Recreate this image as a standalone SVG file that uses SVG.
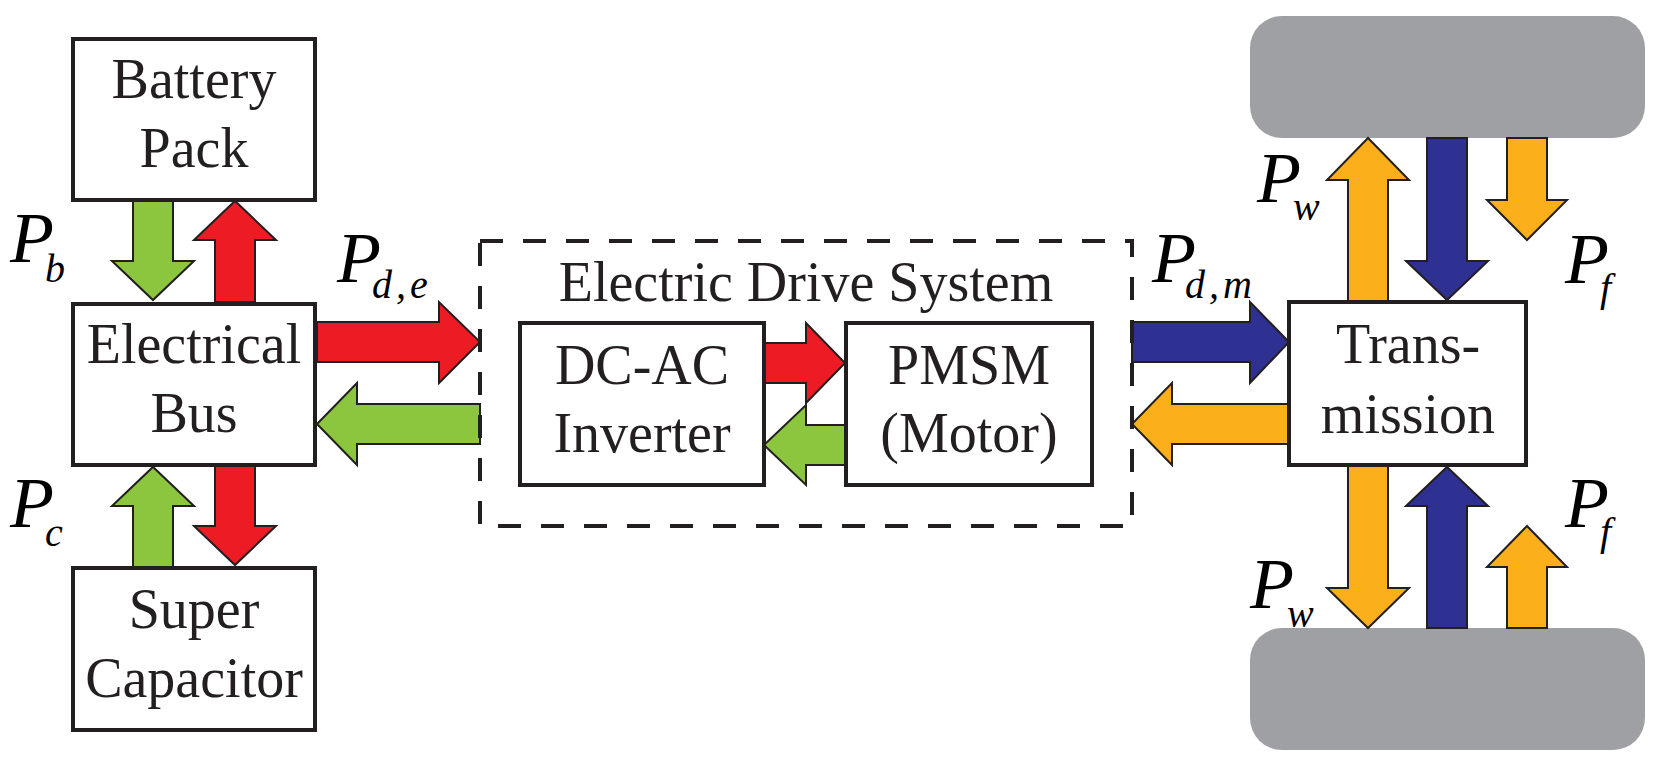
<svg xmlns="http://www.w3.org/2000/svg" width="1680" height="772" viewBox="0 0 1680 772">
<style>
.box{fill:#ffffff;stroke:#231f20;stroke-width:4}
.dash{fill:none;stroke:#231f20;stroke-width:4;stroke-dasharray:23 20}
.t{font-size:56px;fill:#231f20;text-anchor:middle}
.m{font-style:italic;fill:#000000}
.P{font-size:72px}
.s{font-size:40px}
.ar{stroke:#231f20;stroke-width:2;stroke-linejoin:miter}
.g{fill:#8cc63f}.r{fill:#ed1c24}.b{fill:#2e3192}.y{fill:#fbb01b}
.wheel{fill:#9fa0a3}
</style>
<rect width="1680" height="772" fill="#ffffff"/>
<g id="wheels">
<rect class="wheel" x="1250" y="16" width="395" height="122" rx="32"/>
<rect class="wheel" x="1250" y="628" width="395" height="122" rx="32"/>
</g>
<g id="connectors">
<polygon class="ar g" points="133,200 173,200 173,261 194,261 153,300 112,261 133,261"/>
<polygon class="ar r" points="215,302 255,302 255,240 276,240 235,201 194,240 215,240"/>
<polygon class="ar g" points="133,567 173,567 173,506 194,506 153,467 112,506 133,506"/>
<polygon class="ar r" points="215,465 255,465 255,526 276,526 235,565 194,526 215,526"/>
<polygon class="ar r" points="317,322 439,322 439,302 480,342 439,383 439,362 317,362"/>
<polygon class="ar g" points="480,404 357,404 357,383 317,424 357,465 357,444 480,444"/>
<polygon class="ar r" points="764,343 806,343 806,323 845,363 806,403 806,383 764,383"/>
<polygon class="ar g" points="845,425 806,425 806,405 764,445 806,485 806,465 845,465"/>
<polygon class="ar b" points="1132,322 1250,322 1250,302 1289,342 1250,383 1250,362 1132,362"/>
<polygon class="ar y" points="1289,404 1172,404 1172,383 1132,424 1172,465 1172,444 1289,444"/>
<polygon class="ar y" points="1348,302 1388,302 1388,180 1409,180 1368,138 1327,180 1348,180"/>
<polygon class="ar b" points="1427,138 1467,138 1467,261 1488,261 1447,300 1406,261 1427,261"/>
<polygon class="ar y" points="1507,138 1547,138 1547,200 1567,200 1527,240 1487,200 1507,200"/>
<polygon class="ar y" points="1348,465 1388,465 1388,588 1409,588 1368,628 1327,588 1348,588"/>
<polygon class="ar b" points="1427,628 1467,628 1467,506 1488,506 1447,467 1406,506 1427,506"/>
<polygon class="ar y" points="1507,628 1547,628 1547,567 1567,567 1527,526 1487,567 1507,567"/>
</g>
<g id="nodes" font-family="Liberation Serif, Times New Roman, serif">
<g id="battery">
<rect class="box" x="73" y="39" width="242" height="161"/>
<text class="t" x="194" y="98">Battery</text>
<text class="t" x="194" y="167">Pack</text>
</g>
<g id="bus">
<rect class="box" x="73" y="304" width="242" height="161"/>
<text class="t" x="194" y="363">Electrical</text>
<text class="t" x="194" y="432">Bus</text>
</g>
<g id="supercap">
<rect class="box" x="73" y="568" width="242" height="162"/>
<text class="t" x="194" y="628">Super</text>
<text class="t" x="194" y="697">Capacitor</text>
</g>
<g id="drive">
<rect class="dash" x="480" y="241" width="652" height="285"/>
<text class="t" x="806" y="301">Electric Drive System</text>
</g>
<g id="inverter">
<rect class="box" x="520" y="323" width="244" height="162"/>
<text class="t" x="642" y="384">DC-AC</text>
<text class="t" x="642" y="452">Inverter</text>
</g>
<g id="pmsm">
<rect class="box" x="846" y="323" width="246" height="162"/>
<text class="t" x="969" y="384">PMSM</text>
<text class="t" x="969" y="452">(Motor)</text>
</g>
<g id="transmission">
<rect class="box" x="1289" y="302" width="237" height="163"/>
<text class="t" x="1408" y="363">Trans-</text>
<text class="t" x="1408" y="433">mission</text>
</g>
<g id="labels">
<text class="m P" x="10" y="262">P</text><text class="m s" x="45" y="282">b</text>
<text class="m P" x="10" y="527">P</text><text class="m s" x="45" y="546">c</text>
<text class="m P" x="337" y="282">P</text><text class="m s" x="372" y="298" letter-spacing="4">d,e</text>
<text class="m P" x="1152" y="282">P</text><text class="m s" x="1185" y="298" letter-spacing="4">d,m</text>
<text class="m P" x="1257" y="202">P</text><text class="m s" x="1293" y="220">w</text>
<text class="m P" x="1565" y="283">P</text><text class="m s" x="1600" y="301">f</text>
<text class="m P" x="1250" y="608">P</text><text class="m s" x="1287" y="627">w</text>
<text class="m P" x="1565" y="527">P</text><text class="m s" x="1600" y="545">f</text>
</g>
</g>
</svg>
